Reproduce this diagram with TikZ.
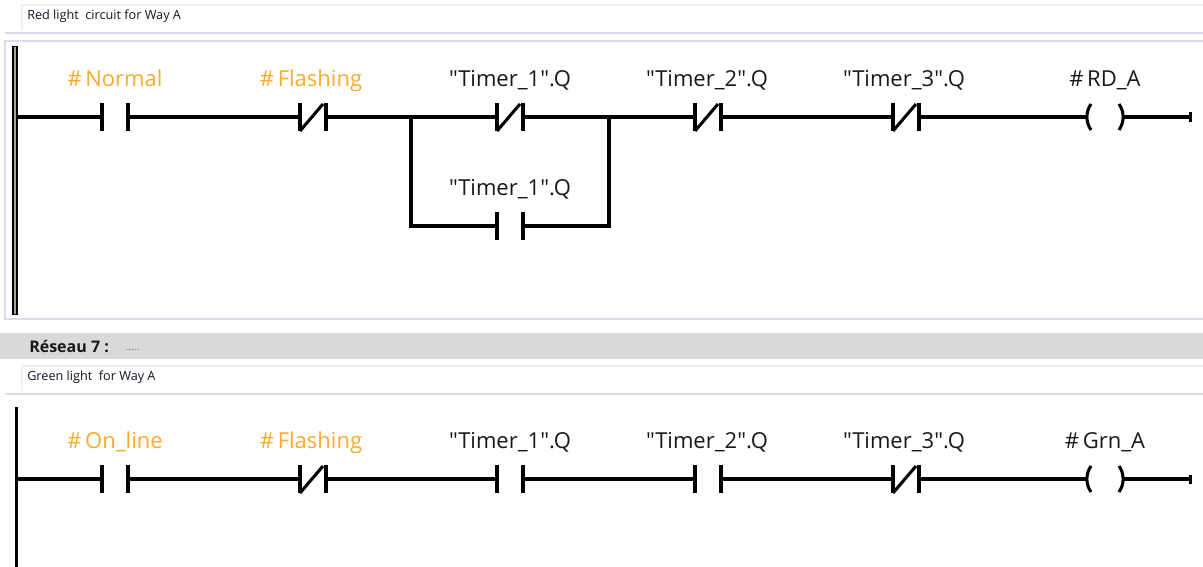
\documentclass[tikz,border=0pt]{standalone}
\usepackage{fontspec}
\setmainfont{Open Sans}[Ligatures=TeXOff]
\definecolor{orangeop}{RGB}{250,170,45}
\definecolor{labelblack}{RGB}{25,25,25}
\definecolor{cmtcol}{RGB}{20,20,40}
\definecolor{lav}{RGB}{218,218,238}
\definecolor{band}{RGB}{217,217,217}
\definecolor{faint}{RGB}{238,238,238}
\newcommand{\dq}{\char34\relax}
\tikzset{
  wire/.style={line width=2.3pt, line cap=butt, line join=miter},
  bar/.style={line width=2.3pt, line cap=butt},
  lbl/.style={font=\fontsize{16.5}{18}\selectfont, text=labelblack, inner sep=0pt, anchor=base},
  olbl/.style={lbl, text=orangeop},
  cmt/.style={font=\fontsize{9.5}{11}\selectfont, anchor=west, inner sep=0pt, text=cmtcol},
  sepline/.style={draw=lav, line width=1.1pt},
  faintline/.style={draw=faint, line width=0.9pt},
  nocontact/.pic={
    \draw[bar] (-13,-14) -- (-13,14) (13,-14) -- (13,14);
    \coordinate (-l) at (-13,0);
    \coordinate (-r) at (13,0);
  },
  nccontact/.pic={
    \draw[bar] (-13,-14) -- (-13,14) (13,-14) -- (13,14);
    \draw[bar] (-13,14) -- (10,-13);
    \coordinate (-l) at (-13,0);
    \coordinate (-r) at (13,0);
  },
  coilpic/.pic={
    \draw[bar] (-14,-13) .. controls (-19.5,-5) and (-19.5,5) .. (-14,13);
    \draw[bar] (14,-13) .. controls (19.5,-5) and (19.5,5) .. (14,13);
    \coordinate (-l) at (-18,0);
    \coordinate (-r) at (18,0);
  },
  endcap/.pic={
    \fill (-1.5,-4.5) rectangle (1.5,4.5);
    \coordinate (-c) at (0,0);
  }
}
\begin{document}
\begin{tikzpicture}[x=0.75pt,y=-0.75pt]
\useasboundingbox[fill=white] (0,0) rectangle (1203,567);

% ---------- header / frames ----------
\draw[faintline] (22,30) -- (22,5) -- (1203,5);
\node[cmt] (cmt1) at (27,16) {Red light\ \ circuit for Way A};
\draw[sepline] (5,33) -- (1203,33);
\draw[sepline] (1203,41) -- (5,41) -- (5,319) -- (1203,319);

\fill[band] (0,333) rectangle (1203,359);
\node[font=\bfseries\fontsize{12}{14}\selectfont, anchor=west, inner sep=0pt, text=labelblack] (res) at (29,346) {Réseau 7 :};
\node[font=\fontsize{8}{9}\selectfont, anchor=base west, inner sep=0pt, text=gray] (dots) at (125,350) {.....};

\draw[faintline] (22,391) -- (22,366) -- (1203,366);
\node[cmt] (cmt2) at (27,377) {Green light\ \ for Way A};
\draw[sepline] (5,394) -- (1203,394);

% ---------- rung 1 ----------
\fill[black] (12,46) rectangle (18,315);
\fill[gray!70] (13.6,47) rectangle (15.6,314);
\coordinate (rail1) at (18,117);

\pic (a1) at (115,117) {nocontact};
\pic (a2) at (313,117) {nccontact};
\pic (a3) at (510,117) {nccontact};
\pic (a3b) at (510,226) {nocontact};
\pic (a4) at (708,117) {nccontact};
\pic (a5) at (906,117) {nccontact};
\pic (a6) at (1105,117) {coilpic};
\pic (e1) at (1190.5,117) {endcap};
\coordinate (j1) at (411,117);
\coordinate (j2) at (609,117);

\node[olbl] (la1) at (115,87) {\#\,Normal};
\node[olbl] (la2) at (311,87) {\#\,Flashing};
\node[lbl] (la3) at (510,87) {\dq Timer\_1\dq .Q};
\node[lbl] (la3b) at (510,195) {\dq Timer\_1\dq .Q};
\node[lbl] (la4) at (707,87) {\dq Timer\_2\dq .Q};
\node[lbl] (la5) at (904,87) {\dq Timer\_3\dq .Q};
\node[lbl] (la6) at (1105,87) {\#\,RD\_A};

\draw[wire] (rail1) -- (a1-l);
\draw[wire] (a1-r) -- (a2-l);
\draw[wire] (a2-r) -- (j1) -- (a3-l);
\draw[wire] (a3-r) -- (j2);
\draw[wire] (j1) |- (a3b-l);
\draw[wire] (a3b-r) -| (j2);
\draw[wire] (j2) -- (a4-l);
\draw[wire] (a4-r) -- (a5-l);
\draw[wire] (a5-r) -- (a6-l);
\draw[wire] (a6-r) -- (e1-c);

% ---------- rung 2 ----------
\fill[black] (14.5,407) rectangle (17.5,567);
\coordinate (rail2) at (17.5,479);

\pic (b1) at (115,479) {nocontact};
\pic (b2) at (313,479) {nccontact};
\pic (b3) at (510,479) {nocontact};
\pic (b4) at (708,479) {nocontact};
\pic (b5) at (906,479) {nccontact};
\pic (b6) at (1105,479) {coilpic};
\pic (e2) at (1190.5,479) {endcap};

\node[olbl] (lb1) at (115,448) {\#\,On\_line};
\node[olbl] (lb2) at (311,448) {\#\,Flashing};
\node[lbl] (lb3) at (510,448) {\dq Timer\_1\dq .Q};
\node[lbl] (lb4) at (707,448) {\dq Timer\_2\dq .Q};
\node[lbl] (lb5) at (904,448) {\dq Timer\_3\dq .Q};
\node[lbl] (lb6) at (1105,448) {\#\,Grn\_A};

\draw[wire] (rail2) -- (b1-l);
\draw[wire] (b1-r) -- (b2-l);
\draw[wire] (b2-r) -- (b3-l);
\draw[wire] (b3-r) -- (b4-l);
\draw[wire] (b4-r) -- (b5-l);
\draw[wire] (b5-r) -- (b6-l);
\draw[wire] (b6-r) -- (e2-c);
\end{tikzpicture}
\end{document}
